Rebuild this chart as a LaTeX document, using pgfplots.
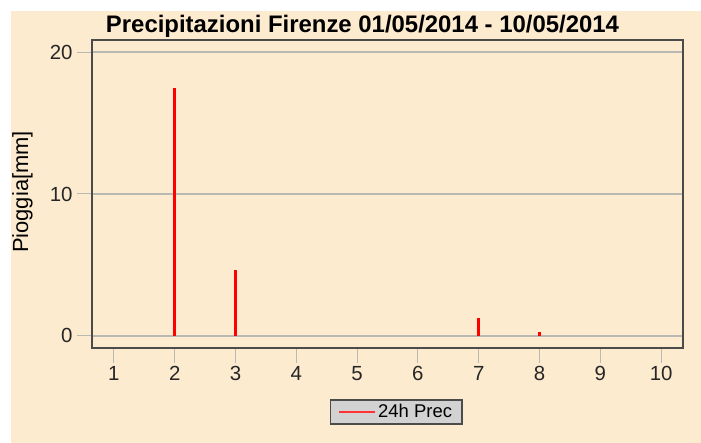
\documentclass[border=0pt]{standalone}
\usepackage{fontspec}
\setmainfont{Liberation Sans}
\usepackage{pgfplots}
\pgfplotsset{compat=1.18}
\definecolor{bgbeige}{RGB}{253,235,207}
\definecolor{axgray}{RGB}{75,75,75}
\definecolor{gridgray}{RGB}{185,185,180}
\definecolor{leggray}{RGB}{210,210,210}
\begin{document}
\begin{tikzpicture}[x=1bp,y=1bp]
\fill[white] (0,0) rectangle (701,443);
\fill[bgbeige] (11,0) rectangle (701,432);
\begin{axis}[
  at={(92bp,95bp)}, anchor=south west,
  scale only axis, width=591bp, height=308bp,
  xmin=0.64, xmax=10.36, ymin=-0.85, ymax=20.85,
  xtick={1,2,3,4,5,6,7,8,9,10},
  ytick={0,10,20},
  tick pos=left,
  ymajorgrids, major grid style={gridgray, line width=1.5bp},
  axis line style={axgray, line width=2bp},
  tick align=outside, major tick length=15bp,
  tick style={gridgray, line width=1bp},
  /pgf/number format/assume math mode=true,
  ticklabel style={font=\fontsize{20.5}{20.5}\selectfont, text=black!85},
  yticklabel style={xshift=-1bp},
  legend style={at={(0.515,-0.2078)}, anchor=center, draw=axgray, line width=1.5bp,
    fill=leggray, font=\fontsize{18.5}{18.5}\selectfont, inner xsep=8bp, inner ysep=2.5bp},
  legend image code/.code={\draw[red!80!white, line width=1.5bp] (0bp,0bp) -- (36bp,0bp);},
]
\addplot[ycomb, red, line width=3bp] coordinates {
 (1,0) (2,17.5) (3,4.65) (4,0) (5,0) (6,0) (7,1.27) (8,0.28) (9,0) (10,0)
};
\addlegendentry{24h Prec}
\end{axis}
\node[anchor=base, font=\bfseries\fontsize{24}{24}\selectfont] at (362.5,410) {Precipitazioni Firenze 01/05/2014 - 10/05/2014};
\node[anchor=base, rotate=90, font=\fontsize{22}{22}\selectfont] at (28,251) {Pioggia[mm]};
\end{tikzpicture}
\end{document}
